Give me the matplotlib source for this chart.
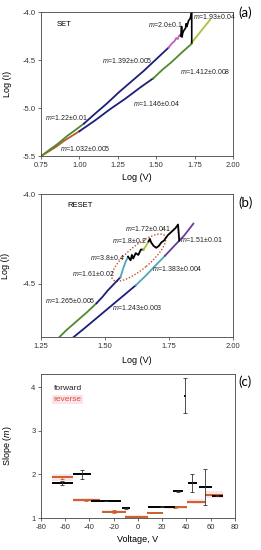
import matplotlib
matplotlib.use("Agg")
import matplotlib.pyplot as plt
from matplotlib.patches import Ellipse
from matplotlib.transforms import ScaledTranslation

plt.rcParams['font.family'] = ['Liberation Sans', 'DejaVu Sans']
plt.rcParams['axes.unicode_minus'] = False
plt.rcParams['mathtext.fontset'] = 'custom'
plt.rcParams['mathtext.it'] = 'Liberation Sans:italic'
plt.rcParams['mathtext.rm'] = 'Liberation Sans'

# ---- (a) SET: upper (forward) branch
set_up_green_x = [0.75, 0.80, 0.86, 0.92, 0.98, 1.03]
set_up_green_y = [-5.50, -5.44, -5.37, -5.29, -5.22, -5.16]
set_up_navy_x = [1.03, 1.10, 1.18, 1.26, 1.34, 1.42, 1.50, 1.58]
set_up_navy_y = [-5.16, -5.06, -4.95, -4.83, -4.72, -4.61, -4.49, -4.37]
set_up_mag_x = [1.58, 1.60, 1.62, 1.63, 1.64, 1.65, 1.66]
set_up_mag_y = [-4.37, -4.33, -4.30, -4.27, -4.28, -4.24, -4.25]
set_up_black_x = [1.66, 1.665, 1.668, 1.672, 1.68, 1.69, 1.695, 1.70, 1.71, 1.72, 1.725, 1.731, 1.731, 1.731]
set_up_black_y = [-4.25, -4.15, -4.26, -4.22, -4.19, -4.17, -4.12, -4.15, -4.09, -4.07, -4.04, -3.98, -4.16, -4.32]
# ---- (a) SET: lower (reverse) branch
set_low_orange_x = [0.75, 0.80, 0.85, 0.90, 0.95, 1.00]
set_low_orange_y = [-5.50, -5.45, -5.40, -5.34, -5.29, -5.24]
set_low_navy_x = [1.00, 1.10, 1.20, 1.30, 1.40, 1.48]
set_low_navy_y = [-5.24, -5.13, -5.01, -4.90, -4.78, -4.69]
set_low_green_x = [1.48, 1.54, 1.60, 1.66, 1.73]
set_low_green_y = [-4.69, -4.60, -4.52, -4.43, -4.33]
set_low_yellow_x = [1.73, 1.76, 1.79, 1.82, 1.85]
set_low_yellow_y = [-4.32, -4.26, -4.20, -4.14, -4.08]

# ---- (b) RESET: upper (forward) branch
rst_up_green_x = [1.30, 1.35, 1.39, 1.43, 1.467]
rst_up_green_y = [-4.83, -4.76, -4.71, -4.66, -4.61]
rst_up_navy_x = [1.467, 1.49, 1.51, 1.53, 1.55, 1.56]
rst_up_navy_y = [-4.61, -4.575, -4.54, -4.51, -4.48, -4.465]
rst_up_teal_x = [1.56, 1.57, 1.58, 1.59]
rst_up_teal_y = [-4.465, -4.42, -4.38, -4.35]
rst_up_black1_x = [1.59, 1.60, 1.605, 1.61, 1.62, 1.63, 1.64, 1.65]
rst_up_black1_y = [-4.35, -4.37, -4.34, -4.36, -4.33, -4.34, -4.31, -4.31]
rst_up_yellow_x = [1.65, 1.66, 1.67]
rst_up_yellow_y = [-4.31, -4.29, -4.265]
rst_up_black2_x = [1.67, 1.675, 1.68, 1.69, 1.70, 1.71, 1.72, 1.73, 1.745, 1.76, 1.775, 1.785, 1.79]
rst_up_black2_y = [-4.265, -4.25, -4.27, -4.29, -4.30, -4.29, -4.27, -4.26, -4.23, -4.21, -4.19, -4.17, -4.26]
# ---- (b) RESET: lower (reverse) branch
rst_low_navy_x = [1.36, 1.42, 1.47, 1.52, 1.57, 1.62]
rst_low_navy_y = [-4.82, -4.75, -4.69, -4.63, -4.57, -4.51]
rst_low_teal_x = [1.62, 1.66, 1.70, 1.734]
rst_low_teal_y = [-4.51, -4.455, -4.395, -4.345]
rst_low_purple_x = [1.734, 1.77, 1.81, 1.845]
rst_low_purple_y = [-4.345, -4.29, -4.23, -4.165]

# ---- (c) slopes vs voltage
fwd_v = [-62.3, -46.0, -26.3, -10.0, 19.5, 33.3, 38.8, 45.0, 55.7, 65.3]
fwd_hw = [8.9, 7.3, 12.7, 3.5, 11.0, 4.1, 0.8, 3.5, 5.1, 4.5]
fwd_m = [1.80, 2.00, 1.39, 1.22, 1.265, 1.61, 3.80, 1.80, 1.72, 1.51]
fwd_err = [0.05, 0.10, 0.005, 0.01, 0.006, 0.02, 0.40, 0.20, 0.41, 0.01]
rev_v = [-62.3, -42.6, -20.0, -1.1, 14.0, 30.5, 47.7, 62.5]
rev_hw = [8.8, 11.3, 10.0, 9.6, 6.9, 9.6, 7.6, 7.3]
rev_m = [1.93, 1.41, 1.146, 1.032, 1.12, 1.245, 1.38, 1.53]
rev_err = [0.04, 0.008, 0.04, 0.005, 0.01, 0.003, 0.004, 0.01]
rev_band = [0.07, 0.05, 0.04, 0.03, 0.03, 0.04, 0.06, 0.08]

NAVY = '#1b1f7a'
GREEN = '#4f8a2e'
YGREEN = '#a9c23c'
MAG = '#c45ac8'
ORANGE = '#b8562e'
TEAL = '#4fa6b8'
PURPLE = '#6a3a9c'
REV = '#c9622b'

fig = plt.figure(figsize=(2.61, 5.5), dpi=100)
ax_a = fig.add_axes([0.157, 0.716, 0.736, 0.262])
ax_b = fig.add_axes([0.157, 0.387, 0.736, 0.260])
ax_c = fig.add_axes([0.157, 0.058, 0.743, 0.262])


def style(ax):
    for s in ax.spines.values():
        s.set_linewidth(0.6)
        s.set_color('#444444')
    ax.tick_params(direction='out', length=2.5, width=0.5, labelsize=5.5,
                   colors='#333333', pad=1.5)


def mlabel(ax, x, y, txt):
    ax.text(x, y, r'$m$=' + txt, fontsize=5, color='#222222', va='center', ha='left')


lw = 1.3
# panel (a)
ax_a.plot(set_low_orange_x, set_low_orange_y, color=ORANGE, lw=lw)
ax_a.plot(set_low_navy_x, set_low_navy_y, color=NAVY, lw=lw)
ax_a.plot(set_low_green_x, set_low_green_y, color=GREEN, lw=lw)
ax_a.plot(set_low_yellow_x, set_low_yellow_y, color=YGREEN, lw=lw)
ax_a.plot(set_up_green_x, set_up_green_y, color=GREEN, lw=lw)
ax_a.plot(set_up_navy_x, set_up_navy_y, color=NAVY, lw=lw)
ax_a.plot(set_up_mag_x, set_up_mag_y, color=MAG, lw=lw)
ax_a.plot(set_up_black_x, set_up_black_y, color='black', lw=1.2)
ax_a.set_xlim(0.75, 2.00)
ax_a.set_ylim(-5.5, -4.0)
ax_a.set_xticks([0.75, 1.00, 1.25, 1.50, 1.75, 2.00])
ax_a.set_xticklabels(['%.2f' % t for t in ax_a.get_xticks()])
ax_a.set_yticks([-5.5, -5.0, -4.5, -4.0])
ax_a.set_yticklabels(['%.1f' % t for t in ax_a.get_yticks()])
ax_a.set_xlabel('Log (V)', fontsize=6.5)
ax_a.set_ylabel('Log (I)', fontsize=6.5)
ax_a.xaxis.set_label_coords(0.5, -0.12)
ax_a.yaxis.set_label_coords(-0.15, 0.5)
ax_a.text(0.854, -4.133, 'SET', fontsize=5.5, va='center')
mlabel(ax_a, 1.447, -4.133, '2.0±0.1')
mlabel(ax_a, 1.74, -4.05, '1.93±0.04')
mlabel(ax_a, 1.147, -4.50, '1.392±0.005')
mlabel(ax_a, 1.655, -4.614, '1.412±0.008')
mlabel(ax_a, 1.349, -4.95, '1.146±0.04')
mlabel(ax_a, 0.776, -5.095, '1.22±0.01')
mlabel(ax_a, 0.874, -5.42, '1.032±0.005')
style(ax_a)

# panel (b)
ax_b.plot(rst_low_navy_x, rst_low_navy_y, color=NAVY, lw=lw)
ax_b.plot(rst_low_teal_x, rst_low_teal_y, color=TEAL, lw=lw)
ax_b.plot(rst_low_purple_x, rst_low_purple_y, color=PURPLE, lw=lw)
ax_b.plot(rst_up_green_x, rst_up_green_y, color=GREEN, lw=lw)
ax_b.plot(rst_up_navy_x, rst_up_navy_y, color=NAVY, lw=lw)
ax_b.plot(rst_up_teal_x, rst_up_teal_y, color=TEAL, lw=lw)
ax_b.plot(rst_up_black1_x, rst_up_black1_y, color='black', lw=lw)
ax_b.plot(rst_up_yellow_x, rst_up_yellow_y, color=YGREEN, lw=lw)
ax_b.plot(rst_up_black2_x, rst_up_black2_y, color='black', lw=lw)
ell = Ellipse((0, 0), 0.68, 0.23, angle=40, fill=False, ls=(0, (1, 1.3)),
              lw=1.0, edgecolor='#c0502a',
              transform=fig.dpi_scale_trans + ScaledTranslation(1.632, -4.355, ax_b.transData))
ax_b.add_patch(ell)
ax_b.set_xlim(1.25, 2.00)
ax_b.set_ylim(-4.8, -4.0)
ax_b.set_xticks([1.25, 1.50, 1.75, 2.00])
ax_b.set_xticklabels(['%.2f' % t for t in ax_b.get_xticks()])
ax_b.set_yticks([-4.5, -4.0])
ax_b.set_yticklabels(['%.1f' % t for t in ax_b.get_yticks()])
ax_b.set_xlabel('Log (V)', fontsize=6.5)
ax_b.set_ylabel('Log (I)', fontsize=6.5)
ax_b.xaxis.set_label_coords(0.5, -0.13)
ax_b.yaxis.set_label_coords(-0.16, 0.5)
ax_b.text(1.355, -4.066, 'RESET', fontsize=5.5, va='center')
mlabel(ax_b, 1.578, -4.193, '1.72±0.041')
mlabel(ax_b, 1.527, -4.258, '1.8±0.2')
mlabel(ax_b, 1.793, -4.253, '1.51±0.01')
mlabel(ax_b, 1.441, -4.356, '3.8±0.4')
mlabel(ax_b, 1.684, -4.417, '1.383±0.004')
mlabel(ax_b, 1.371, -4.446, '1.61±0.02')
mlabel(ax_b, 1.266, -4.596, '1.265±0.006')
mlabel(ax_b, 1.527, -4.633, '1.243±0.003')
style(ax_b)

# panel (c)
band_lo = [m - b for m, b in zip(rev_m, rev_band)]
ax_c.bar(rev_v, [2 * b for b in rev_band], width=[2 * h for h in rev_hw],
         bottom=band_lo, color='#fde2e8', edgecolor='none', zorder=1)
ax_c.errorbar(rev_v, rev_m, xerr=rev_hw, fmt='none', ecolor=REV, elinewidth=1.4,
              capsize=0, zorder=3)
ax_c.errorbar(rev_v, rev_m, yerr=rev_err, fmt='none', ecolor=REV, elinewidth=0.6,
              capsize=1.2, capthick=0.6, zorder=3)
ax_c.errorbar(fwd_v, fwd_m, xerr=fwd_hw, fmt='none', ecolor='black', elinewidth=1.4,
              capsize=0, zorder=4)
ax_c.errorbar(fwd_v, fwd_m, yerr=fwd_err, fmt='none', ecolor='#333333', elinewidth=0.6,
              capsize=1.2, capthick=0.6, zorder=4)
ax_c.set_xlim(-80, 80)
ax_c.set_ylim(1, 4.3)
ax_c.set_xticks(range(-80, 81, 20))
ax_c.set_yticks([1, 2, 3, 4])
ax_c.set_xlabel('Voltage, V', fontsize=6.5)
ax_c.set_ylabel(r'Slope ($m$)', fontsize=6.5)
ax_c.xaxis.set_label_coords(0.5, -0.12)
ax_c.yaxis.set_label_coords(-0.14, 0.5)
ax_c.text(0.065, 0.90, 'forward', transform=ax_c.transAxes, fontsize=6, color='#222222', va='center')
ax_c.text(0.065, 0.825, 'reverse', transform=ax_c.transAxes, fontsize=6, color='#d2553a', va='center',
          bbox=dict(facecolor='#fde2e8', edgecolor='none', pad=0.8))
style(ax_c)

for lab, yy in [('(a)', 13), ('(b)', 203), ('(c)', 382)]:
    fig.text(0.915, 1 - yy / 550, lab, fontsize=9.5, family='Lato', va='center', ha='left')

fig.savefig('out.png', dpi=100)
